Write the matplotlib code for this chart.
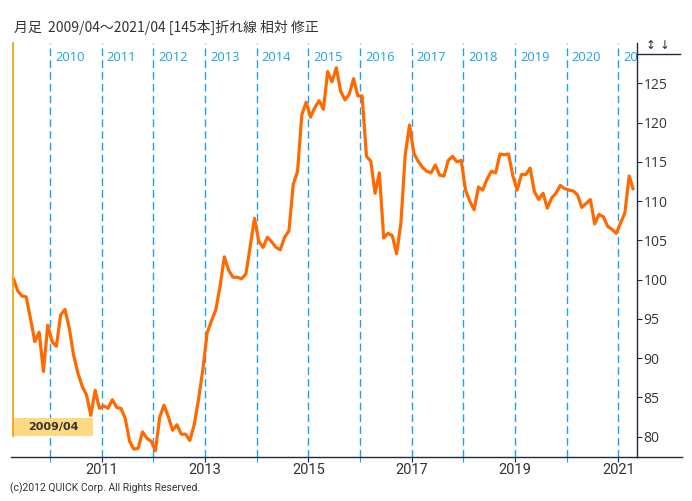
import numpy as np
import matplotlib
matplotlib.use("Agg")
import matplotlib.pyplot as plt
from matplotlib.patches import Rectangle

# ---------------- data ----------------
title = "月足  2009/04〜2021/04 [145本]折れ線 相対 修正"
start_label = "2009/04"
first_year = 2009
first_month = 4
values = [
    100.2, 98.6, 97.9, 97.8, 95.0, 92.1, 93.3, 88.3, 94.2,            # 2009/04-12
    92.1, 91.5, 95.5, 96.2, 93.8, 90.4, 88.1, 86.4, 85.3, 82.7, 85.9, 83.6,   # 2010
    83.9, 83.6, 84.7, 83.7, 83.6, 82.3, 79.4, 78.4, 78.5, 80.6, 79.8, 79.4,   # 2011
    78.2, 82.5, 84.0, 82.5, 80.8, 81.5, 80.3, 80.3, 79.5, 81.5, 84.7, 88.5,   # 2012
    93.2, 94.7, 96.1, 99.1, 102.9, 101.2, 100.3, 100.3, 100.1, 100.7, 104.2, 107.8,  # 2013
    104.9, 104.1, 105.4, 104.8, 104.1, 103.8, 105.4, 106.2, 112.1, 113.8, 121.0, 122.6,  # 2014
    120.7, 121.9, 122.8, 121.7, 126.5, 125.2, 127.0, 124.0, 122.9, 123.6, 125.6, 123.4,  # 2015
    123.4, 115.7, 115.1, 111.0, 113.6, 105.3, 105.9, 105.6, 103.3, 107.2, 115.9, 119.7,  # 2016
    116.1, 115.1, 114.3, 113.8, 113.6, 114.6, 113.3, 113.2, 115.2, 115.7, 115.0, 115.2,  # 2017
    111.4, 110.0, 108.9, 111.8, 111.4, 112.8, 113.8, 113.6, 116.0, 115.9, 116.0, 113.2,  # 2018
    111.4, 113.4, 113.4, 114.2, 111.2, 110.2, 111.0, 109.1, 110.4, 111.0, 112.0, 111.6,  # 2019
    111.4, 111.3, 110.8, 109.2, 109.7, 110.2, 107.1, 108.3, 108.0, 106.8, 106.4, 105.9,  # 2020
    107.2, 108.5, 113.2, 111.4,                                                         # 2021/01-04
]
year_marks = list(range(2010, 2022))
bottom_labels = [2011, 2013, 2015, 2017, 2019, 2021]
right_ticks = [80, 85, 90, 95, 100, 105, 110, 115, 120, 125]

# ---------------- style ----------------
line_col = "#FF6A00"
grid_col = "#1AA3E8"
axis_col = "#1E2B3C"
text_col = "#333333"
cursor_col = "#F2A31B"
box_col = "#FDD981"

plt.rcParams["font.family"] = ["Noto Sans CJK JP", "DejaVu Sans"]

fig = plt.figure(figsize=(6.92, 5.01), dpi=100)
ax = fig.add_axes([0.01611, 0.0888, 0.9041, 0.8253])

x = np.arange(len(values))


def year_pos(y):
    return (y - first_year) * 12 - (first_month - 1) - 0.5


ax.set_xlim(-0.5, 144.77)
ax.set_ylim(77.46, 130.14)

# year dashed lines + labels
for yr in year_marks:
    xp = year_pos(yr)
    ax.axvline(xp, color=grid_col, lw=1.0, ls=(0, (5.5, 3.0)), zorder=1)
    ax.annotate(str(yr), xy=(xp, 0.966), xycoords=("data", "axes fraction"),
                xytext=(3.6, 0), textcoords="offset points",
                ha="left", va="center", color=grid_col, fontsize=9.3,
                family=["Open Sans", "DejaVu Sans"], clip_on=True, zorder=2)

# main line
ax.plot(x, values, color=line_col, lw=2.3, solid_joinstyle="round",
        solid_capstyle="butt", zorder=4)

# spines
for s in ["left", "top"]:
    ax.spines[s].set_visible(False)
for s in ["right", "bottom"]:
    ax.spines[s].set_color(axis_col)
    ax.spines[s].set_linewidth(1.0)

ax.yaxis.tick_right()
ax.set_yticks(right_ticks)
ax.set_yticklabels([str(t) for t in right_ticks])
ax.tick_params(axis="y", direction="out", length=3.5, width=0.8, color=axis_col,
               labelcolor=text_col, labelsize=10, pad=1.5)
for lab in ax.get_yticklabels():
    lab.set_family(["Open Sans", "DejaVu Sans"])

ax.set_xticks([year_pos(y) for y in bottom_labels])
ax.set_xticklabels([str(y) for y in bottom_labels])
ax.set_xticks([year_pos(y) for y in year_marks if y not in bottom_labels], minor=True)
ax.tick_params(axis="x", which="major", direction="out", length=3.5, width=0.8,
               color=axis_col, labelcolor=text_col, labelsize=10, pad=1.5)
ax.tick_params(axis="x", which="minor", direction="out", length=3.5, width=0.8,
               color=grid_col)
for lab in ax.get_xticklabels():
    lab.set_family(["Roboto", "DejaVu Sans"])
    lab.set_fontsize(10.5)

# bottom axis extension to the right and top-right header line
ax.plot([1, 1.0722], [0, 0], transform=ax.transAxes, color=axis_col, lw=1.0,
        clip_on=False)
ax.plot([1, 1.069], [0.9734, 0.9734], transform=ax.transAxes, color=axis_col,
        lw=1.0, clip_on=False)
ax.text((651 - 11.15) / 625.65, 0.994, "↕", transform=ax.transAxes, ha="center",
        va="center", fontsize=8.5, color=axis_col, family=["DejaVu Sans"])
ax.text((665 - 11.15) / 625.65, 0.994, "↓", transform=ax.transAxes, ha="center",
        va="center", fontsize=8.5, color=axis_col, family=["DejaVu Sans"])

# cursor line and date box
box_x0, box_x1 = 0.0034, 0.1313
box_y0, box_y1 = 0.0496, 0.0931
ax.add_patch(Rectangle((box_x0, box_y0), box_x1 - box_x0, box_y1 - box_y0,
                       transform=ax.transAxes, fc=box_col, ec="none",
                       zorder=5, clip_on=False))
ax.plot([0, 0], [box_y0, 1.0], transform=ax.get_xaxis_transform(),
        color=cursor_col, lw=1.3, zorder=5.5, clip_on=False)
ax.text((box_x0 + box_x1) / 2, (box_y0 + box_y1) / 2, start_label,
        transform=ax.transAxes, ha="center", va="center", fontsize=8,
        fontweight="bold", color=text_col, family=["DejaVu Sans"], zorder=6)

fig.text(14 / 692, 1 - 27 / 501, title, ha="left", va="center",
         fontsize=10, color=text_col)
fig.text(10 / 692, 1 - 488 / 501, "(c)2012 QUICK Corp. All Rights Reserved.",
         ha="left", va="center", fontsize=7.5, color=text_col,
         family=["Roboto", "DejaVu Sans"])

fig.savefig("out.png", dpi=100)
